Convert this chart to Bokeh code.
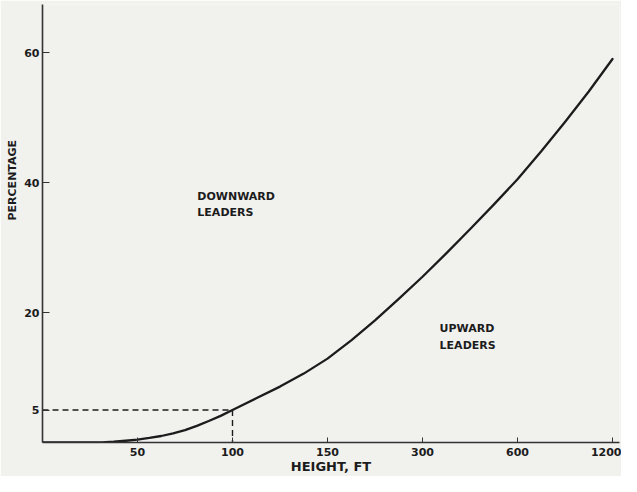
from bokeh.plotting import figure
from bokeh.models import Range1d, FixedTicker, Label, Title
from bokeh.embed import file_html
from bokeh.resources import INLINE

# ---- data ----
x_tick_pos = [1, 2, 3, 4, 5, 6]
x_tick_labels = ["50", "100", "150", "300", "600", "1200"]
y_ticks = [5, 20, 40, 60]

# curve: position on the height axis (tick index units) and percentage
curve_pos = [0, 0.25, 0.5, 0.625, 0.75, 0.875, 1, 1.125, 1.25, 1.375, 1.5, 1.625, 1.75, 1.875,
             2, 2.25, 2.5, 2.75, 3, 3.25, 3.5, 3.75, 4, 4.25, 4.5, 4.75, 5, 5.25, 5.5, 5.75, 6]
curve_pct = [0, 0, 0, 0.03, 0.12, 0.27, 0.45, 0.7, 1.0, 1.42, 1.9, 2.55, 3.3, 4.1,
             5, 6.8, 8.6, 10.6, 12.9, 15.7, 18.8, 22.1, 25.5, 29.1, 32.8, 36.6, 40.5, 44.8, 49.3, 54.0, 59]

ref_pos = 2      # 100 ft
ref_pct = 5      # 5 %

BG = "#f1f1ee"
INK = "#1c1c1c"
FONT = "DejaVu Sans"

p = figure(width=621, height=476, output_backend="svg", toolbar_location=None,
           x_range=Range1d(0, 577 / 95), y_range=Range1d(0, 438 / 6.5),
           min_border_left=42, min_border_right=2, min_border_top=4, min_border_bottom=34)
p.background_fill_color = BG
p.border_fill_color = BG
p.outline_line_color = None
p.grid.visible = False

# x axis
xa = p.xaxis[0]
xa.ticker = FixedTicker(ticks=x_tick_pos)
xa.major_label_overrides = {pos: lab for pos, lab in zip(x_tick_pos, x_tick_labels)}
xa.minor_tick_line_color = None
xa.major_tick_in = 5
xa.major_tick_out = 0
xa.axis_line_width = 1.6
xa.axis_line_color = "#333333"
xa.major_tick_line_color = "#333333"
xa.major_label_standoff = 5
xa.major_label_text_font = FONT
xa.major_label_text_font_style = "bold"
xa.major_label_text_font_size = "11px"
xa.major_label_text_color = INK
xa.axis_label = "HEIGHT, FT"
xa.axis_label_text_font = FONT
xa.axis_label_text_font_style = "bold"
xa.axis_label_text_font_size = "13px"
xa.axis_label_text_color = INK
xa.axis_label_standoff = 0

# y axis
ya = p.yaxis[0]
ya.ticker = FixedTicker(ticks=y_ticks)
ya.minor_tick_line_color = None
ya.major_tick_in = 7
ya.major_tick_out = 0
ya.axis_line_width = 1.6
ya.axis_line_color = "#333333"
ya.major_tick_line_color = "#333333"
ya.major_label_standoff = 3
ya.major_label_text_font = FONT
ya.major_label_text_font_style = "bold"
ya.major_label_text_font_size = "11px"
ya.major_label_text_color = INK

# y axis title, placed off-centre as in the original
p.add_layout(Title(text="PERCENTAGE", align="left", offset=222, standoff=6,
                   text_font=FONT, text_font_style="bold", text_font_size="11px",
                   text_color=INK, background_fill_color=None), "left")

# dashed reference lines
p.line([0, ref_pos, ref_pos], [ref_pct, ref_pct, 0], line_color=INK, line_width=1.4,
       line_dash="6 4")

# curve
p.line(curve_pos, curve_pct, line_color=INK, line_width=2.3, line_join="round", line_cap="round")

# region labels
p.add_layout(Label(x=1.63, y=38.9, text="DOWNWARD\nLEADERS", text_font=FONT,
                   text_font_style="bold", text_font_size="11px", text_color=INK,
                   text_align="left", text_baseline="top", text_line_height=1.25))
p.add_layout(Label(x=4.18, y=18.5, text="UPWARD\nLEADERS", text_font=FONT,
                   text_font_style="bold", text_font_size="11px", text_color=INK,
                   text_align="left", text_baseline="top", text_line_height=1.25))

html = file_html(p, INLINE)
html = html.replace("<body>", '<body style="background:%s">' % BG, 1)
open("out.html", "w").write(html)
